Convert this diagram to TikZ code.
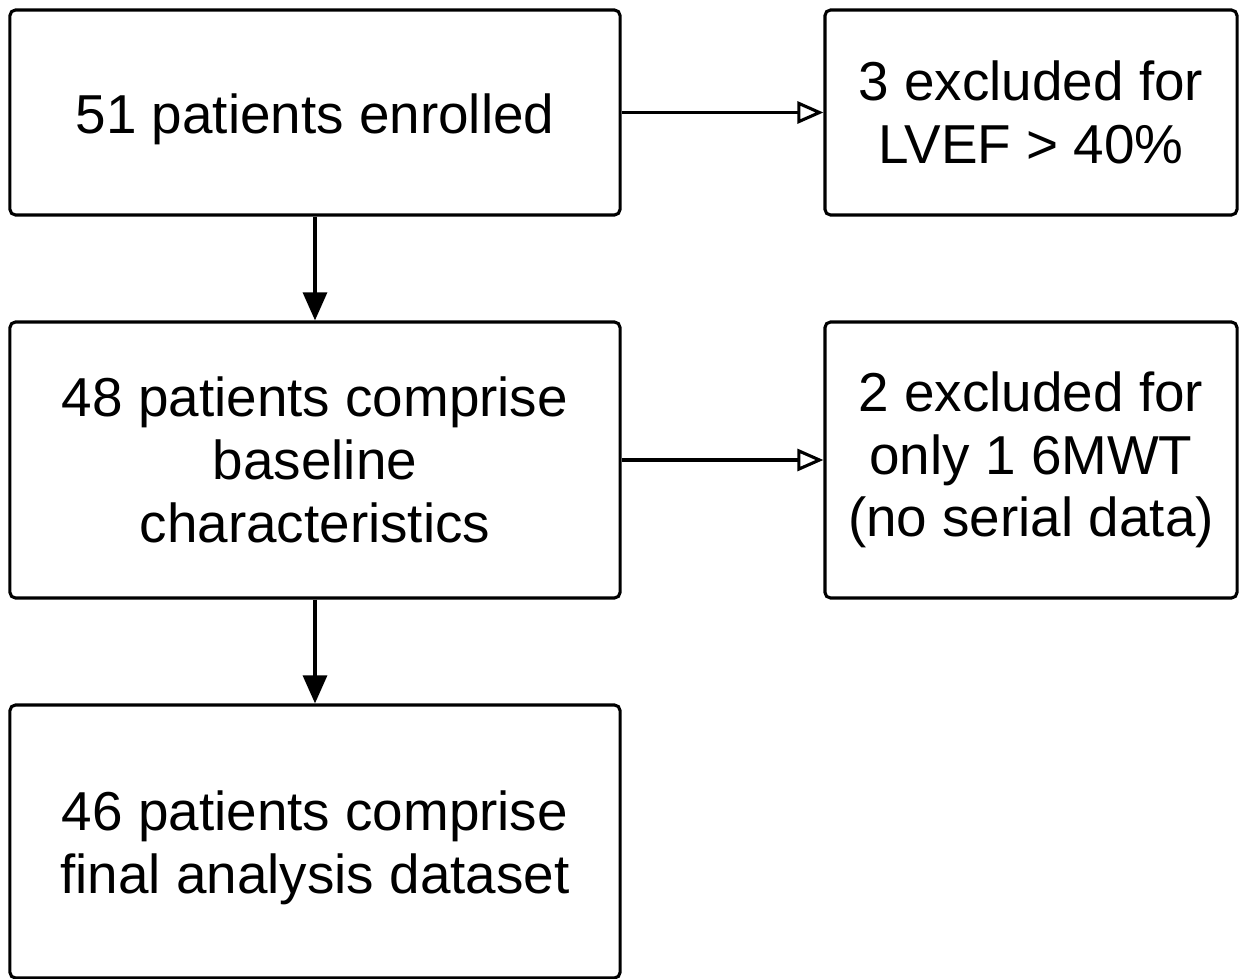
\documentclass[tikz,border=0pt]{standalone}
\usepackage{fontspec}
\setmainfont{Liberation Sans}
\usetikzlibrary{arrows.meta}
\begin{document}
\begin{tikzpicture}[x=0.025cm,y=-0.025cm,
  box/.style={draw,line width=2.2pt,rounded corners=4pt,align=center,inner sep=0pt,
    font=\fontsize{39}{44.6}\selectfont},
  link/.style={line width=2.2pt},
  filledtip/.style={-{Triangle[length=0.7cm,width=0.6cm]}},
  opentip/.style={-{Triangle[open,length=0.65cm,width=0.55cm,line width=2.2pt]}}]
\useasboundingbox (0,0) rectangle (1239,979);
\node[box,minimum width=15.25cm,minimum height=5.125cm] (a) at (315,112.5) {\\[-0.25cm]51 patients enrolled};
\node[box,minimum width=10.3cm,minimum height=5.125cm] (b) at (1031,112.5) {3 excluded for\\LVEF > 40\%};
\node[box,minimum width=15.25cm,minimum height=6.9cm] (c) at (315,460) {48 patients comprise\\baseline\\characteristics};
\node[box,minimum width=10.3cm,minimum height=6.9cm] (d) at (1031,460) {2 excluded for\\only 1 6MWT\\(no serial data)};
\node[box,minimum width=15.25cm,minimum height=6.825cm] (e) at (315,841.5) {\\[-0.25cm]46 patients comprise\\final analysis dataset};
\draw[link,opentip] (a) -- (b);
\draw[link,opentip] (c) -- (d);
\draw[link,filledtip] (a) -- (c);
\draw[link,filledtip] (c) -- (e);
\end{tikzpicture}
\end{document}
